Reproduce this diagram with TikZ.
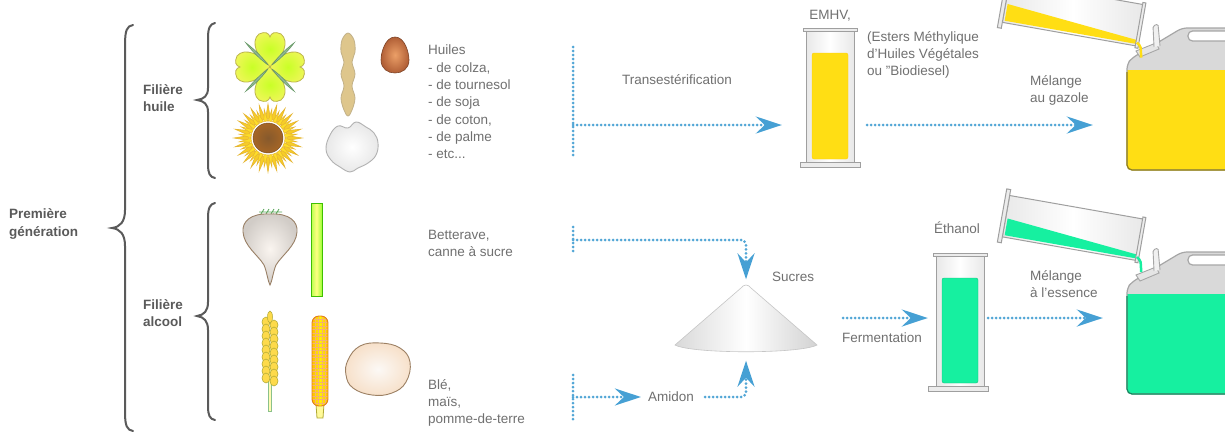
\documentclass[tikz,border=0pt]{standalone}
\usepackage{fontspec}
\setmainfont{Liberation Sans}
\usetikzlibrary{arrows.meta}

\definecolor{flux}{RGB}{82,166,214}
\definecolor{pointe}{RGB}{70,160,212}
\definecolor{texte}{RGB}{112,112,112}
\definecolor{titre}{RGB}{90,90,90}
\definecolor{gazole}{RGB}{255,222,20}
\definecolor{ethanol}{RGB}{22,240,160}
\definecolor{colza}{RGB}{240,246,90}
\definecolor{tournesol}{RGB}{246,204,40}
\definecolor{soja}{RGB}{222,198,140}
\definecolor{palme}{RGB}{208,112,64}

\begin{document}
\begin{tikzpicture}[x=1pt,y=-1pt]
\tikzstyle{txt}=[text=texte, font=\fontsize{13.5}{17.3}\selectfont, align=left, inner sep=0pt]
\tikzstyle{lbl}=[txt, text=titre, font=\fontsize{13.5}{17.3}\selectfont\bfseries]
\tikzstyle{pointille}=[draw=flux, line width=3pt, line cap=round, dash pattern=on 0pt off 4pt]
\tikzstyle{fleche}=[pointille, -{Stealth[length=26pt,width=17pt,inset=9pt,color=pointe,fill=pointe]}]
\tikzstyle{accolade}=[draw=titre, line width=2pt, line cap=round]
\tikzstyle{boite}=[inner sep=0pt, minimum width=46pt]
\tikzstyle{verre}=[draw=gray!75, line width=1pt, left color=gray!18, right color=gray!18, middle color=white]
\tikzstyle{pied}=[draw=gray!75, line width=1pt, fill=gray!15]
\tikzstyle{bidon}=[draw=gray!70, line width=1.2pt]

\clip (0,0) rectangle (1225,437);
\fill[white] (0,0) rectangle (1225,437);

% accolades
\draw[accolade] (133,25) .. controls (127,26) and (125,30) .. (125,45) -- (125,210)
  .. controls (125,222) and (120,227) .. (112,228) .. controls (120,229) and (125,234) .. (125,246)
  -- (125,412) .. controls (125,426) and (127,430) .. (133,431);
\draw[accolade] (215,23) .. controls (210,24) and (208,28) .. (208,38) -- (208,88)
  .. controls (208,96) and (204,99) .. (197,100) .. controls (204,101) and (208,104) .. (208,112)
  -- (208,164) .. controls (208,174) and (210,177) .. (215,178);
\draw[accolade] (215,203) .. controls (210,204) and (208,208) .. (208,218) -- (208,302)
  .. controls (208,311) and (204,315) .. (197,316) .. controls (204,317) and (208,321) .. (208,330)
  -- (208,406) .. controls (208,416) and (210,419) .. (215,420);

\node[lbl, anchor=west] (premiere) at (9,224) {Première\\génération};
\node[lbl, anchor=west] (huile) at (143,98) {Filière\\huile};
\node[lbl, anchor=west] (alcool) at (143,313) {Filière\\alcool};

% colza
\begin{scope}[shift={(270,67)}]
\foreach \a in {0,90,180,270}
  \draw[rotate=\a, inner color=green!25!yellow!85!white, outer color=colza, draw=olive!60, line width=0.8pt] (0,0) .. controls (-13,-8) and (-20,-26) .. (-11,-33)
    .. controls (-5,-36) and (-1,-34) .. (0,-30) .. controls (1,-34) and (5,-36) .. (11,-33)
    .. controls (20,-26) and (13,-8) .. (0,0) -- cycle;
\foreach \a in {45,135,225,315}
  \draw[rotate=\a, fill=green!20!gray!70!white, draw=green!20!gray, line width=0.6pt] (0,-3) .. controls (-2,-15) and (-1,-28) .. (0,-34)
    .. controls (1,-28) and (2,-15) .. (0,-3);
\end{scope}
% soja
\draw[fill=soja, draw=soja!70!gray, line width=0.8pt] plot[smooth cycle, tension=0.6] coordinates
  {(348,33) (354,40) (355,52) (352,62) (355,74) (352,86) (355,98) (352,110) (348,116)
   (344,110) (341,98) (344,86) (341,74) (344,62) (341,52) (342,40)};
% palme
\draw[inner color=palme!60!orange!70!white, outer color=palme!85!black, draw=palme!60!black, line width=0.6pt] (395,37) .. controls (405,37) and (409,53) .. (409,60)
  .. controls (409,69) and (402,73) .. (395,73) .. controls (388,73) and (381,69) .. (381,60)
  .. controls (381,53) and (385,37) .. (395,37);
% tournesol
\begin{scope}[shift={(268,138)}]
\foreach \a in {0,15,...,345}
  \draw[fill=tournesol, draw=tournesol!70!brown, line width=0.6pt] ({\a-7.5}:19) -- (\a:34) -- ({\a+7.5}:19) -- cycle;
\foreach \a in {7.5,22.5,...,352.5}
  \draw[fill=yellow!75!orange!85!white, draw=tournesol!70!brown, line width=0.5pt] ({\a-6.5}:17) -- (\a:29) -- ({\a+6.5}:17) -- cycle;
\draw[inner color=brown!70!black, outer color=brown!75!orange!80!black, draw=brown!60!black] (0,0) circle (15pt);
\end{scope}
% coton
\draw[inner color=white, outer color=gray!18, draw=gray!60, line width=0.9pt] plot[smooth cycle, tension=0.7] coordinates
  {(330,135) (338,126) (348,128) (356,122) (366,127) (374,133) (378,143) (376,155)
   (368,163) (358,168) (350,172) (340,167) (331,160) (326,149)};

% betterave
\draw[green!30!gray, line width=0.8pt] (259,212) -- (282,212) (261,214) -- (264,209) (266,214) -- (269,209) (271,214) -- (274,209) (276,214) -- (279,209);
\draw[inner color=white!92!brown, outer color=brown!20!gray!40, draw=brown!40!gray, line width=0.9pt] (270,214) .. controls (290,213) and (298,222) .. (297,232)
  .. controls (296,246) and (282,255) .. (276,265) .. controls (273,272) and (272,282) .. (270,285)
  .. controls (268,282) and (267,272) .. (264,265) .. controls (258,255) and (244,246) .. (243,232)
  .. controls (242,222) and (250,213) .. (270,214);
% canne
\draw[left color=green!40!yellow!70!white, right color=green!50!yellow!80!white, middle color=yellow!50!white, draw=green!50!olive, line width=0.9pt] (311,203) rectangle (322,296);
% ble
\draw[line width=3.5pt, green!30!gray!70] (270,345) -- (270,412);
\draw[line width=2pt, yellow!30!white] (270,345) -- (270,411);
\foreach \i in {0,...,8} {
  \draw[fill=yellow!65!orange!70!white, draw=olive!70, line width=0.5pt] (266,{322+7*\i}) ellipse [x radius=4pt, y radius=5pt];
  \draw[fill=yellow!65!orange!70!white, draw=olive!70, line width=0.5pt] (274,{325+7*\i}) ellipse [x radius=4pt, y radius=5pt];
}
\draw[fill=yellow!65!orange!70!white, draw=olive!70, line width=0.5pt] (270,317) ellipse [x radius=2.5pt, y radius=6pt];
% mais
\draw[fill=yellow!40!white, draw=olive!70, line width=0.8pt] (316,404) -- (324,404) -- (323,418) -- (317,418) -- cycle;
\begin{scope}
\clip[rounded corners=7pt] (312,316) rectangle (328,406);
\fill[left color=orange!50!yellow, right color=orange!50!yellow, middle color=yellow!90!orange] (312,316) rectangle (328,406);
\foreach \x in {315,318.5,...,326} \draw[orange!70!brown!60, line width=0.4pt] (\x,316) -- (\x,406);
\foreach \y in {319,322.5,...,405} \draw[orange!70!brown!60, line width=0.4pt] (312,\y) -- (328,\y);
\end{scope}
\draw[rounded corners=7pt, draw=orange!60!brown, line width=0.9pt] (312,316) rectangle (328,406);
% pomme de terre
\draw[inner color=white!95!brown, outer color=brown!15!orange!20!white!95!gray, draw=brown!45!gray, line width=0.9pt] plot[smooth cycle, tension=0.7] coordinates
  {(348,360) (360,346) (380,343) (400,348) (410,362) (406,382) (392,393) (372,395) (353,388) (346,375)};

% textes des cultures
\node[txt, anchor=north west] (huiles) at (428,45) {Huiles\\- de colza,\\- de tournesol\\- de soja\\- de coton,\\- de palme\\- etc...};
\node[txt, anchor=north west] (betterave) at (428,230) {Betterave,\\canne à sucre};
\node[txt, anchor=north west] (ble) at (428,379) {Blé,\\maïs,\\pomme-de-terre};

% eprouvettes
\node[boite, minimum height=133pt] (emhv) at (830,96.5) {};
\draw[verre] (806,30) rectangle (854,163);
\draw[pied] (803,28) rectangle (857,31);
\draw[fill=gazole, draw=gazole!80!orange, rounded corners=2pt] (812,53) rectangle (848,159);
\draw[pied] (800,162) rectangle (860,167);
\node[boite, minimum height=132pt] (ethanol) at (960,321) {};
\draw[verre] (936,255) rectangle (984,387);
\draw[pied] (933,253) rectangle (987,256);
\draw[fill=ethanol, draw=ethanol!80!black, rounded corners=2pt] (942,278) rectangle (978,383);
\draw[pied] (928,386) rectangle (988,391);

\node[txt] (nomemhv) at (830,16) {EMHV,};
\node[txt, anchor=north west] (esters) at (867,31) {(Esters Méthylique\\d'Huiles Végétales\\ou "Biodiesel)};
\node[txt] (nometh) at (957,228) {Éthanol};

% bidons et verseurs
\node[inner sep=0pt, minimum width=113pt, minimum height=142pt] (bidon1) at (1183.5,99) {};
\node[inner sep=0pt, minimum width=113pt, minimum height=142pt] (bidon2) at (1183.5,323) {};
\foreach \dy/\by/\liq in {0/1.5/gazole, 224/216/ethanol} {
  \begin{scope}[shift={(0,\dy)}]
    \begin{scope}
      \clip[rounded corners=5pt] (1127,64) -- (1127,170) -- (1240,170) -- (1240,28) -- (1182,28) -- (1132,58) -- cycle;
      \fill[gray!30] (1120,20) rectangle (1245,175);
      \fill[\liq] (1120,70) rectangle (1245,175);
    \end{scope}
    \draw[bidon, rounded corners=5pt] (1127,64) -- (1127,170) -- (1240,170) -- (1240,28) -- (1182,28) -- (1132,58) -- cycle;
    \begin{scope}
      \clip (1100,72) rectangle (1250,180);
      \draw[\liq!60!black, line width=1.2pt, rounded corners=5pt] (1127,64) -- (1127,170) -- (1240,170) -- (1240,28);
    \end{scope}
    \draw[bidon, fill=white, rounded corners=4.5pt] (1188,31) rectangle (1245,41);
    \draw[bidon, fill=gray!20, line width=0.9pt] (1136,51) -- (1156,43) -- (1159,49) -- (1140,57) -- cycle;
    \draw[bidon, fill=gray!12, line width=0.9pt, rounded corners=1.5pt] (1154,47) -- (1153,26) -- (1158,24) -- (1160,46);
  \end{scope}
  \begin{scope}[shift={(1005,\by)}, rotate=-10]
    \draw[verre] (1,-21) rectangle (137,21);
    \fill[\liq] (3,2) -- (136,15) -- (136,19) -- (3,19) -- cycle;
    \draw[pied] (-3,-27) rectangle (1,27);
    \draw[pied] (136,-23) rectangle (139,23);
  \end{scope}
  \draw[\liq, line width=2.5pt] (1137,{\by+41}) .. controls (1141,{\by+45}) .. (1141,{\by+56});
}

% fleches
\coordinate (barre1) at (573,125);
\coordinate (barre2) at (573,240);
\coordinate (barre3) at (573,397);
\draw[pointille] (573,47) -- (573,158);
\draw[pointille] (573,227) -- (573,253);
\draw[pointille] (573,375) -- (573,422);

\node[txt] (trans) at (677,80) {Transestérification};
\draw[fleche, shorten >=25pt] (barre1) -- (barre1 -| emhv.west);
\draw[fleche, shorten <=14pt, shorten >=34pt] (barre1 -| emhv.east) -- (barre1 -| bidon1.west);
\node[txt, anchor=north west] (gazole) at (1030,75) {Mélange\\au gazole};

% tas de sucre
\node[inner sep=0pt, minimum width=142pt, minimum height=67pt] (tas) at (746,318) {};
\draw[left color=gray!30, right color=gray!35, middle color=white, draw=gray!45, line width=0.6pt]
  (675,345) -- (741,288) .. controls (744,284) and (748,284) .. (751,288) -- (817,345)
  .. controls (800,354) and (692,354) .. (675,345) -- cycle;
\node[txt] (sucres) at (793,277) {Sucres};
\node[txt, inner sep=4pt] (amidon) at (671,397) {Amidon};
\draw[fleche, rounded corners=5pt, shorten >=5pt] (barre2) -| (tas.north);
\draw[fleche, shorten >=3pt] (barre3) -- (amidon);
\draw[fleche, rounded corners=5pt, shorten <=7pt, shorten >=9pt] (amidon) -| (tas.south);

\draw[fleche, shorten <=26pt, shorten >=9pt] (tas.east) -- (tas.east -| ethanol.west);
\node[txt] (ferm) at (882,338) {Fermentation};
\draw[fleche, shorten <=5pt, shorten >=24pt] (tas.east -| ethanol.east) -- (tas.east -| bidon2.west);
\node[txt, anchor=north west] (essence) at (1030,270) {Mélange\\à l'essence};
\end{tikzpicture}
\end{document}
